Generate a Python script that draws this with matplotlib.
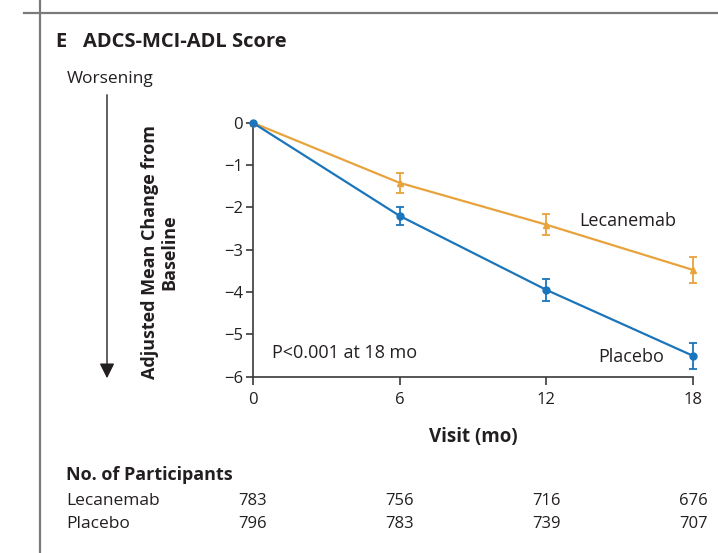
import matplotlib
matplotlib.use("Agg")
import matplotlib.pyplot as plt
import matplotlib.transforms as mtransforms
from matplotlib.patches import FancyArrowPatch
from matplotlib.lines import Line2D

plt.rcParams['font.family'] = ['Open Sans', 'DejaVu Sans']

# ---- data ----
visits = [0, 6, 12, 18]
lecanemab = [0.0, -1.42, -2.41, -3.48]
lecanemab_err = [0.0, 0.23, 0.25, 0.31]
placebo = [0.0, -2.20, -3.95, -5.51]
placebo_err = [0.0, 0.22, 0.26, 0.31]
yticks = [0, -1, -2, -3, -4, -5, -6]
n_lecanemab = [783, 756, 716, 676]
n_placebo = [796, 783, 739, 707]

TXT = '#231F20'
ORANGE = '#E8A33D'
BLUE = '#1B75BB'
W, H = 718, 553

fig = plt.figure(figsize=(W / 100, H / 100), dpi=100)
def fx(px): return px / W
def fy(py): return 1 - py / H

ax = fig.add_axes([fx(252.7), fy(376.7), fx(693.3) - fx(252.7), fy(122.7) - fy(376.7)])

ax.errorbar(visits, lecanemab, yerr=lecanemab_err, color=ORANGE, lw=1.6,
            marker='^', ms=4.5, capsize=3, elinewidth=1.3, capthick=1.3,
            clip_on=False, zorder=3)
ax.errorbar(visits, placebo, yerr=placebo_err, color=BLUE, lw=1.6,
            marker='o', ms=5, capsize=3, elinewidth=1.3, capthick=1.3,
            clip_on=False, zorder=4)

ax.set_xlim(0, 18)
ax.set_ylim(-6, 0)
ax.set_xticks(visits)
ax.set_yticks(yticks)
ax.set_yticklabels(['0' if v == 0 else '\u2212%d' % abs(v) for v in yticks])
for s in ['top', 'right']:
    ax.spines[s].set_visible(False)
for s in ['left', 'bottom']:
    ax.spines[s].set_color('#3a3a3a')
    ax.spines[s].set_linewidth(1.2)
ax.tick_params(axis='both', direction='out', length=5, width=1.2, color='#3a3a3a',
               labelsize=12, labelcolor=TXT, pad=2)
ax.tick_params(axis='x', length=6, pad=5)
ax.patch.set_visible(False)

ax.text(0.79, -5.45, 'P<0.001 at 18 mo', fontsize=13, color=TXT, va='center', ha='left')
ax.text(13.33, -2.32, 'Lecanemab', fontsize=13, color=TXT, va='center', ha='left')
ax.text(16.8, -5.53, 'Placebo', fontsize=13, color=TXT, va='center', ha='right')

# x-axis label
ax.text(0.5, fy(437), 'Visit (mo)', transform=mtransforms.blended_transform_factory(ax.transAxes, fig.transFigure),
        fontsize=13.5, fontweight='bold', color=TXT, ha='center', va='center')

# title and side texts
fig.text(fx(55), fy(42), 'E', fontsize=14.5, fontweight='bold', color=TXT, va='center', ha='left')
fig.text(fx(83), fy(42), 'ADCS-MCI-ADL Score', fontsize=14.5, fontweight='bold', color=TXT, va='center', ha='left')
fig.text(fx(67), fy(79), 'Worsening', fontsize=12.5, color=TXT, va='center', ha='left')
fig.text(fx(160), fy(252), 'Adjusted Mean Change from\nBaseline', fontsize=13, fontweight='bold',
         color=TXT, rotation=90, va='center', ha='center', linespacing=1.12)

arrow = FancyArrowPatch((fx(107), fy(92)), (fx(107), fy(381)), transform=fig.transFigure,
                        arrowstyle='-|>,head_length=6,head_width=3', color=TXT, lw=1.0,
                        mutation_scale=1.5)
fig.patches.append(arrow)

# frame lines
fig.add_artist(Line2D([fx(40), fx(40)], [fy(0), fy(553)], color='#7a7a7a', lw=1.6))
fig.add_artist(Line2D([fx(24), fx(718)], [fy(13), fy(13)], color='#7a7a7a', lw=1.6))

# participants table
tr = mtransforms.blended_transform_factory(ax.transData, fig.transFigure)
fig.text(fx(66), fy(475), 'No. of Participants', fontsize=13, fontweight='bold', color=TXT, va='center')
fig.text(fx(66), fy(501), 'Lecanemab', fontsize=12.5, color=TXT, va='center')
fig.text(fx(66), fy(524), 'Placebo', fontsize=12.5, color=TXT, va='center')
for v, a, b in zip(visits, n_lecanemab, n_placebo):
    ax.text(v, fy(501), str(a), transform=tr, fontsize=12, color=TXT, ha='center', va='center')
    ax.text(v, fy(524), str(b), transform=tr, fontsize=12, color=TXT, ha='center', va='center')

fig.savefig('out.png', dpi=100)
